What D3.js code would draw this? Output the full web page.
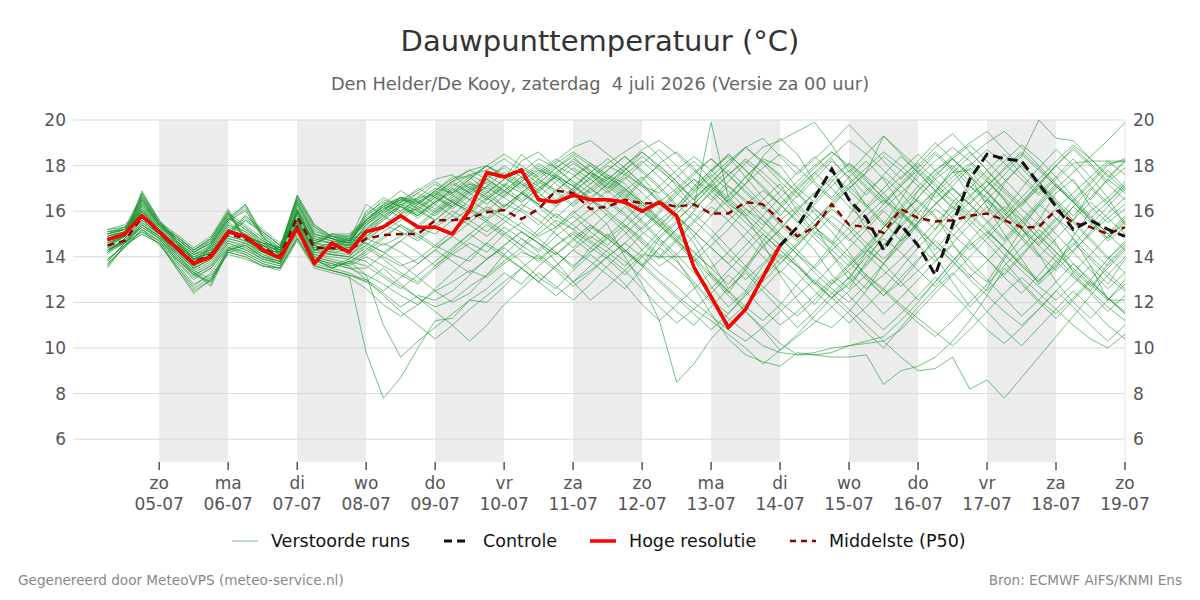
<!DOCTYPE html>
<html lang="nl">
<head>
<meta charset="UTF-8">
<title>Dauwpunttemperatuur</title>
<script src="https://cdn.jsdelivr.net/npm/d3@7"></script>
<style>
  body { margin: 0; background: #fff; }
  svg { font-family: "DejaVu Sans", sans-serif; }
</style>
</head>
<body>
<script>
// runs every 6 hours from 4 July 06 UTC
var startTime = "2026-07-04T06:00";
var stepHours = 6;

var tickDates = ["2026-07-05","2026-07-06","2026-07-07","2026-07-08","2026-07-09","2026-07-10","2026-07-11",
                 "2026-07-12","2026-07-13","2026-07-14","2026-07-15","2026-07-16","2026-07-17","2026-07-18","2026-07-19"];
var dayNames = ["zo","ma","di","wo","do","vr","za","zo","ma","di","wo","do","vr","za","zo"];
var dayLabels = ["05-07","06-07","07-07","08-07","09-07","10-07","11-07","12-07","13-07","14-07","15-07","16-07","17-07","18-07","19-07"];
var shadedDays = ["2026-07-05","2026-07-07","2026-07-09","2026-07-11","2026-07-13","2026-07-15","2026-07-17"];
var yTicks = [6, 8, 10, 12, 14, 16, 18, 20];

var hires = [14.75,15.0,15.8,15.1,14.4,13.7,14.0,15.1,14.9,14.3,13.95,15.25,13.7,14.6,14.2,15.1,15.3,15.8,15.3,15.3,
             15.0,16.05,17.7,17.5,17.8,16.5,16.4,16.7,16.5,16.5,16.4,16.0,16.4,15.8,13.55,12.25,10.9,11.7,13.1,14.5];

var control = [14.75,15.0,15.8,15.1,14.4,13.7,14.0,15.1,14.9,14.3,13.95,15.25,13.7,14.6,14.2,15.1,15.3,15.8,15.3,15.3,
               15.0,16.05,17.7,17.5,17.8,16.5,16.4,16.7,16.5,16.5,16.4,16.0,16.4,15.8,13.55,12.25,10.9,11.7,13.1,14.5,
               15.3,16.6,17.85,16.5,15.7,14.3,15.4,14.5,13.2,15.4,17.4,18.5,18.3,18.2,17.2,16.2,15.2,15.6,15.2,14.9];

var median = [14.5,14.7,15.75,15.1,14.4,13.75,14.1,15.0,14.8,14.4,14.0,15.75,14.4,14.4,14.25,14.8,14.95,15.0,15.0,15.6,
              15.6,15.7,15.95,16.05,15.65,16.1,16.9,16.8,16.1,16.2,16.5,16.35,16.35,16.2,16.3,15.9,15.9,16.4,16.3,15.6,
              14.9,15.3,16.3,15.4,15.3,15.05,16.1,15.7,15.55,15.6,15.8,15.9,15.6,15.3,15.3,16.05,15.5,15.3,15.0,15.3];

var members = [
[14.6,15.0,16.2,15.3,14.6,14.0,14.3,15.4,15.0,14.5,14.1,16.1,14.8,14.6,14.5,15.3,15.8,16.2,15.9,16.4,16.8,17.2,17.0,16.6,17.3,17.8,17.5,16.9,17.4,18.0,17.6,17.1,16.8,17.5,18.2,17.4,16.3,15.8,16.5,17.2,16.0,15.1,14.6,15.8,16.9,17.5,16.8,15.9,15.2,16.4,17.1,16.6,15.7,14.9,15.6,16.8,17.4,16.2,15.5,16.1],
[14.2,14.8,15.6,15.0,14.2,13.5,13.9,14.8,14.6,14.2,13.9,15.5,14.2,14.1,14.0,14.8,14.5,14.9,15.3,15.0,15.6,16.1,15.7,16.3,16.0,15.4,16.2,16.8,16.5,16.1,16.9,17.5,16.6,15.8,14.9,13.8,12.6,13.4,14.5,15.2,16.1,16.8,17.4,16.5,15.2,14.3,15.6,16.9,17.8,18.3,17.6,16.2,15.0,13.9,12.8,13.5,14.9,16.0,16.6,15.4],
[15.0,15.2,16.6,15.5,14.8,14.2,14.6,15.8,15.3,14.7,14.3,16.4,15.0,14.8,14.6,15.6,16.3,15.9,16.1,16.6,16.2,16.9,17.5,17.9,17.2,16.8,17.6,18.3,17.8,17.1,16.5,17.3,18.1,18.6,17.9,17.0,16.4,17.2,18.4,19.2,18.5,17.3,16.6,17.5,18.2,17.4,16.3,15.5,16.8,17.9,18.6,17.8,16.9,16.2,17.1,18.0,17.3,16.5,17.4,18.2],
[13.8,14.6,15.3,14.8,13.9,13.2,13.6,14.6,14.3,13.9,13.7,15.2,14.0,13.8,13.6,14.0,13.6,13.2,12.8,13.5,14.1,14.6,14.2,15.0,15.5,14.9,15.3,16.0,15.4,14.8,14.2,15.0,15.6,14.8,13.9,12.7,11.8,12.5,13.6,14.4,15.1,14.3,13.2,12.6,13.8,15.0,15.9,16.5,15.8,14.6,13.5,12.9,14.0,15.2,16.3,15.7,14.8,13.6,12.8,13.9],
[14.9,15.1,16.0,15.2,14.3,13.6,14.5,15.6,16.2,14.9,14.2,15.9,14.5,14.3,14.4,15.2,15.9,16.4,16.0,15.6,16.3,17.0,16.6,16.0,16.8,17.4,16.9,16.3,17.0,17.6,17.2,16.4,15.6,16.2,17.1,17.8,18.4,17.5,16.6,15.8,16.7,17.6,18.3,17.4,16.2,15.4,16.5,17.7,18.5,17.8,16.7,15.9,17.2,18.1,17.3,16.4,15.6,16.9,17.8,17.0],
[14.4,14.9,16.9,15.6,14.7,13.9,14.2,15.2,14.9,14.6,14.4,16.7,15.4,14.9,14.7,15.5,16.1,16.5,16.4,16.8,16.4,17.0,17.6,17.1,16.5,17.2,17.9,18.4,17.7,17.0,17.8,18.6,17.9,17.1,16.2,19.9,16.6,17.5,18.3,18.0,17.0,16.4,17.3,18.1,17.4,16.5,15.7,16.6,17.5,18.3,17.6,16.8,16.0,17.0,17.9,18.7,18.0,17.1,16.4,17.2],
[13.5,14.5,15.0,14.6,13.5,12.4,13.0,14.2,14.0,13.6,13.5,14.8,13.6,13.4,13.2,9.8,7.8,8.7,10.0,11.2,11.3,12.1,12.6,13.3,12.8,13.6,14.2,13.5,14.4,15.0,14.3,13.6,14.8,15.5,14.6,13.2,12.4,13.5,14.7,15.6,16.2,15.4,14.1,13.0,14.2,15.3,16.0,15.2,14.0,12.9,11.8,12.6,13.9,14.8,15.5,14.6,13.3,12.5,13.7,14.5],
[15.2,15.3,15.9,15.0,14.5,13.9,14.0,15.0,15.7,15.1,14.5,15.6,14.3,14.5,14.8,14.6,14.2,13.7,13.1,12.5,12.0,12.4,13.2,14.1,14.8,14.3,15.2,15.8,15.1,14.5,15.3,16.0,15.4,14.6,13.8,14.5,15.2,16.1,15.6,14.8,14.1,13.5,14.3,15.0,15.8,16.5,15.9,15.1,14.3,15.2,16.0,16.8,16.1,15.3,14.6,15.4,16.2,15.5,14.7,15.3],
[14.3,14.6,15.4,14.9,14.1,13.3,12.8,14.3,14.5,14.0,13.8,15.4,13.9,13.5,13.8,13.2,11.0,9.6,10.3,10.9,11.5,12.1,12.0,12.7,13.5,12.9,13.6,14.3,13.8,13.2,12.6,13.5,14.4,13.8,12.9,12.1,11.5,12.4,13.3,14.1,13.6,12.8,12.2,13.1,14.0,14.8,14.2,13.4,12.7,13.6,14.5,15.1,14.4,13.6,12.9,13.8,14.6,13.9,13.1,12.5],
[14.7,14.9,16.4,15.4,14.9,14.3,14.8,16.0,14.7,14.3,14.2,16.0,14.6,15.0,14.9,15.8,16.5,16.2,15.7,16.3,17.0,16.5,16.0,16.7,17.3,16.8,16.2,17.0,17.7,17.2,16.6,17.4,18.0,17.3,16.5,17.2,18.1,18.8,18.1,17.3,16.6,17.4,18.2,17.5,16.7,17.6,18.4,17.7,16.9,16.1,17.0,17.8,18.5,17.6,16.8,17.5,18.3,17.5,16.6,17.3],
[14.5,14.9,16.0,15.2,14.5,13.9,14.2,15.2,14.9,14.4,14.0,15.9,14.6,14.5,14.3,14.9,15.4,15.1,14.7,15.3,15.8,15.4,14.9,15.5,16.1,15.6,15.0,14.4,15.2,15.9,15.3,14.6,13.9,14.7,15.5,16.2,15.6,14.8,14.0,13.3,14.1,15.0,15.8,15.2,14.4,13.7,14.5,15.4,16.1,15.5,14.7,13.9,13.2,14.0,14.9,15.7,15.1,14.3,13.6,14.4],
[14.3,14.7,15.5,14.9,14.3,13.6,14.0,14.9,14.7,14.3,13.9,15.6,14.3,14.2,14.1,14.5,14.0,13.6,13.9,14.5,14.1,13.8,14.6,15.3,14.8,14.2,14.9,15.5,16.1,15.4,14.0,12.8,11.2,8.5,9.3,10.4,11.2,11.9,12.6,13.4,12.7,11.9,12.8,13.6,14.3,13.7,12.9,12.1,12.9,13.8,14.6,13.9,13.1,12.4,13.2,14.1,14.8,14.0,13.3,12.6],
[14.9,15.1,16.5,15.4,14.7,14.1,14.5,15.7,15.2,14.6,14.2,16.3,14.9,14.7,14.5,16.0,16.6,16.2,15.8,16.5,17.1,17.6,17.2,16.7,17.3,17.9,17.4,16.8,17.5,18.1,18.6,19.1,18.4,17.6,16.9,17.7,18.5,17.8,17.0,16.3,17.1,17.9,18.6,17.9,17.1,16.4,17.2,18.0,18.8,19.4,18.6,17.8,17.0,16.3,17.2,18.0,18.8,18.1,17.3,17.9],
[13.9,14.5,15.2,14.7,13.8,13.1,13.5,14.5,14.2,13.8,13.6,15.0,13.9,13.7,13.5,13.2,12.8,12.3,11.9,12.6,13.3,14.0,14.6,14.1,13.5,12.9,13.6,14.3,14.9,14.4,13.8,13.1,12.3,11.6,11.0,11.8,12.6,13.3,12.5,11.7,10.9,11.6,12.4,13.1,12.3,11.5,12.2,13.0,13.8,14.5,13.8,13.0,12.2,11.4,12.1,12.9,13.7,13.0,12.2,11.5],
[14.8,15.0,15.9,15.1,14.2,13.5,14.4,15.5,16.1,14.8,14.1,15.8,14.4,14.2,14.3,15.0,15.6,16.2,16.8,16.3,15.8,16.5,17.1,16.6,16.1,16.9,17.6,17.1,16.5,17.2,17.9,17.2,16.4,15.6,16.3,17.1,17.8,17.1,16.3,15.5,14.8,15.6,16.4,17.1,16.3,15.5,14.7,15.5,16.3,17.0,16.3,15.6,14.8,15.6,16.4,17.2,16.5,15.7,15.0,15.8],
[14.5,15.0,16.8,15.5,14.6,13.8,14.1,15.1,14.8,14.5,14.3,16.6,15.3,14.8,14.6,15.8,16.3,16.6,16.5,17.0,16.8,17.4,18.0,17.6,17.1,17.7,18.3,17.8,17.2,17.8,18.4,17.7,17.0,16.2,17.0,17.8,18.5,17.8,17.1,16.3,15.5,16.3,17.1,17.8,17.0,16.3,17.1,17.9,18.6,17.9,17.1,16.4,15.6,16.4,17.2,18.0,18.7,18.0,17.2,16.5],
[13.6,14.5,15.1,14.6,13.6,12.6,13.1,14.3,14.1,13.7,13.5,14.9,13.7,13.5,13.3,12.9,12.4,11.8,12.3,12.1,12.5,13.2,13.9,14.4,13.8,13.1,12.6,13.4,14.1,13.5,12.8,11.9,11.2,11.9,12.6,13.3,12.5,11.6,10.8,9.9,10.6,11.4,12.2,11.5,10.7,10.0,10.9,11.8,12.6,13.3,12.5,11.6,10.8,10.1,10.9,11.7,12.5,11.8,11.0,10.4],
[15.1,15.2,15.8,14.9,14.4,13.8,14.0,14.9,15.6,15.0,14.4,15.5,14.3,14.4,14.7,15.2,15.7,16.3,16.0,16.6,17.2,16.8,16.3,16.9,17.5,17.1,16.5,17.0,17.7,17.3,16.7,16.0,15.3,16.1,16.9,17.6,16.9,16.1,15.4,16.2,17.0,17.7,17.0,16.2,15.5,16.3,17.1,17.8,17.1,16.4,15.7,16.5,17.3,18.0,17.3,16.5,15.8,16.6,17.4,16.8],
[14.2,14.6,15.3,14.8,14.0,13.2,12.9,14.2,14.4,13.9,13.7,15.3,13.8,13.6,13.7,14.1,14.6,14.2,13.7,14.3,14.9,14.4,13.9,14.5,15.1,14.6,14.1,14.8,15.4,14.9,14.3,13.6,14.4,15.2,15.9,15.2,14.4,13.6,12.9,13.7,14.5,15.3,14.6,13.8,13.0,12.3,13.1,13.9,14.7,14.0,13.2,12.5,13.3,14.1,14.9,14.2,13.4,12.7,13.5,14.3],
[14.8,15.0,16.3,15.3,14.8,14.2,14.7,15.9,14.8,14.4,14.3,15.9,14.7,15.0,14.8,15.4,15.9,16.5,16.1,15.6,16.2,16.9,17.4,16.9,16.4,17.0,17.7,18.2,17.6,16.9,16.3,15.6,14.8,14.1,13.3,12.6,13.4,14.2,15.0,14.3,13.6,12.8,13.6,14.4,15.2,16.0,15.3,14.5,13.8,14.6,15.4,16.2,15.5,14.8,14.0,14.8,15.6,16.4,15.7,15.0],
[14.7,15.1,16.3,15.4,14.7,14.1,14.4,15.5,15.1,14.6,14.2,16.2,14.9,14.7,14.6,15.6,16.1,16.5,16.3,16.8,17.3,17.6,17.8,18.3,17.8,17.2,17.9,18.5,18.0,17.4,18.0,18.6,18.0,17.3,16.5,17.3,18.0,18.8,19.2,18.4,17.6,18.3,19.0,19.8,19.0,18.2,17.4,18.2,19.0,18.3,17.5,16.8,17.6,18.4,20.0,19.2,19.1,18.3,17.5,18.2],
[14.1,14.7,15.6,15.0,14.1,13.4,13.8,14.7,14.5,14.1,13.8,15.4,14.1,14.0,13.9,14.4,13.9,13.3,12.9,13.6,14.3,15.0,15.6,15.1,14.5,15.2,15.9,15.4,14.8,15.5,16.2,15.5,14.7,13.9,12.7,11.5,10.4,9.7,9.4,9.2,9.8,9.7,9.6,9.6,9.7,8.4,9.0,9.2,9.6,10.3,11.2,12.3,13.5,12.8,12.0,11.3,12.1,12.9,12.2,11.6],
[15.0,15.3,16.7,15.6,14.9,14.3,14.7,15.9,15.4,14.8,14.4,16.5,15.1,14.9,14.7,16.3,15.8,16.4,17.0,16.6,16.1,16.7,17.3,16.8,17.4,18.0,17.5,16.9,16.3,16.9,17.5,16.8,16.1,16.9,17.6,18.3,17.6,16.8,16.1,16.9,17.7,18.4,17.7,16.9,16.2,17.0,17.8,18.5,17.8,17.0,16.3,17.1,17.9,18.6,17.9,17.1,16.4,17.2,18.0,18.3],
[13.7,14.4,15.2,14.7,13.8,13.0,13.5,14.4,14.2,13.8,13.6,15.1,13.9,13.7,13.5,13.5,14.1,14.7,14.2,13.6,14.2,14.8,15.4,14.9,14.3,13.8,14.5,15.1,14.6,14.0,13.4,12.6,11.8,11.1,11.7,12.4,13.2,12.5,11.7,11.0,11.6,12.3,13.0,12.3,11.5,10.8,11.5,12.3,13.1,12.4,11.6,10.8,10.2,10.9,11.7,12.5,11.8,11.0,10.3,11.0],
[14.9,15.2,16.1,15.3,14.4,13.7,14.6,15.7,16.3,15.0,14.3,16.0,14.6,14.4,14.5,14.8,15.3,15.9,16.4,16.0,16.6,17.2,16.7,16.2,16.8,16.3,15.7,16.4,17.0,16.5,15.9,15.2,15.9,16.7,17.4,16.7,15.9,15.2,14.4,13.7,14.5,15.3,16.1,15.4,14.6,13.9,14.7,15.5,16.3,17.0,16.3,15.5,14.7,15.5,16.3,17.1,16.4,15.6,14.8,15.6],
[14.3,14.8,16.6,15.4,14.6,13.9,14.2,15.2,14.9,14.5,14.3,16.5,15.2,14.8,14.5,15.1,15.6,16.2,15.8,16.4,17.0,16.5,17.1,17.7,17.2,16.6,17.3,17.9,17.4,16.8,17.4,18.1,18.7,18.0,17.2,16.5,17.3,18.1,18.8,19.1,19.5,19.9,18.9,17.7,18.5,19.3,18.5,17.7,16.9,17.7,17.8,16.9,16.0,15.2,14.5,15.3,16.2,17.0,16.3,15.5],
[13.7,14.4,15.2,14.5,13.7,12.8,13.2,14.1,13.9,13.6,13.4,14.7,13.5,13.3,13.1,12.6,11.9,11.4,11.9,12.5,12.9,13.4,13.1,13.7,14.2,13.9,14.5,15.0,14.4,13.9,13.2,14.0,14.9,15.6,16.3,17.1,16.5,15.8,14.6,13.2,12.1,11.2,10.9,11.6,12.5,13.7,14.8,15.9,16.8,17.5,18.1,17.4,16.5,15.3,14.1,12.9,12.0,11.3,12.1,13.0],
[15.1,15.3,16.0,15.1,14.6,14.0,14.1,15.1,15.8,15.2,14.6,15.7,14.4,14.6,14.9,15.6,16.2,15.7,16.3,16.9,16.4,15.9,16.5,17.1,18.2,18.6,17.9,17.2,16.5,15.8,15.1,14.3,13.6,14.1,14.9,15.8,16.7,17.5,18.2,17.6,16.8,15.9,15.1,14.2,13.1,12.3,12.9,13.8,14.9,15.8,16.6,17.4,18.2,18.9,18.3,17.5,16.6,15.8,15.0,14.3],
[14.4,14.6,15.5,15.0,14.1,13.4,13.0,14.4,14.6,14.1,13.9,15.5,14.0,13.6,13.9,14.5,15.1,15.6,16.2,15.8,16.4,16.0,15.5,15.0,14.5,14.0,13.4,12.7,13.3,14.0,14.6,15.3,16.0,16.8,17.4,16.9,16.2,15.5,14.8,14.0,13.3,12.5,11.8,11.1,11.8,12.6,13.5,14.4,15.2,16.0,16.7,17.3,16.6,15.8,15.0,14.2,13.5,12.8,12.1,12.8],
[14.6,14.9,16.5,15.5,15.0,14.4,14.9,16.1,14.8,14.2,14.1,16.1,14.5,15.0,15.0,15.6,16.2,16.6,16.3,16.9,17.5,17.5,16.9,16.2,16.8,17.4,18.0,17.6,17.0,16.4,15.8,15.1,14.5,15.2,16.0,16.9,17.6,18.2,17.5,16.7,15.8,15.0,14.3,13.6,14.4,15.3,16.2,17.1,17.8,18.4,19.0,19.5,18.7,17.9,17.1,16.3,15.5,14.7,13.9,14.6],
[14.6,14.9,16.1,15.2,14.5,14.0,14.3,15.3,15.0,14.5,14.1,16.0,14.7,14.6,14.4,14.6,14.2,14.7,15.3,15.9,16.4,16.0,16.6,17.2,16.8,16.2,15.5,14.8,14.2,14.9,15.6,16.4,17.1,17.8,18.4,17.8,17.1,16.4,15.6,14.9,14.1,13.3,12.6,12.0,12.8,13.7,14.6,15.5,16.3,17.1,17.9,17.3,16.5,15.6,14.8,15.6,16.5,17.3,18.1,18.2],
[14.2,14.8,15.7,15.1,14.3,13.5,13.9,14.9,14.7,14.2,13.9,15.6,14.3,14.1,14.0,13.8,13.2,12.7,12.2,11.8,12.1,12.7,13.2,13.8,14.4,15.0,15.6,15.2,14.7,14.2,13.6,14.3,15.1,15.9,16.6,17.2,16.6,15.9,15.2,14.5,13.7,12.9,12.2,12.8,13.6,14.5,15.4,16.2,16.9,16.2,15.4,14.6,13.8,12.9,12.1,11.5,12.2,13.0,13.9,14.7],
[15.1,15.2,16.6,15.5,14.8,14.2,14.6,15.8,15.3,14.7,14.3,16.4,15.0,14.8,14.6,15.7,16.2,16.6,16.4,16.9,17.4,17.8,18.0,18.5,18.0,17.5,18.1,18.6,18.1,17.5,16.9,16.2,15.4,14.7,14.0,13.2,12.5,11.8,11.2,11.9,12.8,13.6,14.5,15.3,16.1,16.8,17.5,18.1,17.4,16.7,15.9,15.2,14.4,13.6,12.9,13.7,14.5,15.4,16.2,17.0],
[13.9,14.5,15.4,14.8,13.9,13.3,13.7,14.7,14.4,14.0,13.7,15.3,14.1,13.9,13.7,14.3,14.9,15.4,15.0,14.5,15.1,15.7,16.2,15.8,15.3,14.8,14.2,13.6,14.2,14.8,15.4,14.8,14.1,13.5,12.8,12.0,11.3,10.7,10.1,9.8,9.7,9.8,10.0,10.1,10.3,10.5,11.2,12.0,12.9,13.8,14.7,15.5,16.2,15.6,14.8,14.0,13.2,12.4,11.6,12.3],
[14.8,15.1,16.0,15.2,14.3,13.6,14.5,15.6,16.0,14.9,14.2,15.9,14.5,14.3,14.4,15.4,16.0,16.6,16.1,16.7,17.3,16.8,17.4,18.0,17.5,16.9,17.5,18.1,17.6,17.0,17.6,18.2,17.5,16.8,16.1,16.8,17.6,18.3,17.7,17.0,16.3,15.6,16.3,17.0,17.7,18.4,17.8,17.1,16.4,15.7,16.4,17.1,17.8,18.5,17.8,17.1,16.4,15.7,16.4,17.1],
[14.5,14.9,16.7,15.5,14.7,13.9,14.2,15.1,14.9,14.6,14.4,16.6,15.3,14.9,14.6,15.2,15.8,15.3,14.8,15.4,16.0,15.6,15.1,15.7,16.3,15.9,15.3,15.9,16.5,16.0,15.4,14.7,14.0,14.8,15.6,16.4,17.1,16.5,15.8,15.0,14.3,13.5,12.8,13.4,14.2,15.0,15.8,16.6,17.4,18.0,17.3,16.5,15.7,14.9,14.1,13.4,14.2,15.1,15.9,16.6],
[13.8,14.6,15.1,14.7,13.6,12.7,13.3,14.4,14.1,13.7,13.5,14.8,13.6,13.4,13.2,12.9,13.5,12.8,12.2,11.6,11.0,10.3,11.0,11.9,12.6,13.3,12.7,12.1,12.8,13.6,14.3,13.7,13.0,12.3,11.7,11.2,10.6,10.0,9.3,9.9,10.5,11.1,11.8,12.5,13.2,12.6,11.9,11.3,10.7,10.1,10.8,11.6,12.4,13.1,12.4,11.7,11.0,10.4,10.0,10.6],
[15.2,15.4,16.0,15.1,14.5,13.9,14.0,15.0,15.8,15.1,14.5,15.6,14.3,14.5,14.8,15.5,16.0,16.3,16.6,16.7,16.2,16.8,17.4,16.9,16.4,17.0,17.5,17.1,16.6,17.2,17.8,18.4,17.8,17.2,16.5,15.8,16.5,17.2,17.9,18.5,17.9,17.2,16.5,17.2,17.9,18.6,18.0,17.3,16.6,17.3,18.0,18.7,18.1,17.4,16.7,17.4,18.1,18.2,18.2,18.2],
[14.3,14.7,15.4,14.9,14.0,13.3,12.7,14.3,14.5,14.0,13.8,15.4,13.9,13.5,13.8,14.2,14.8,15.4,14.9,14.4,14.9,15.5,16.1,15.6,15.1,14.6,13.8,12.9,12.1,12.7,13.4,14.1,14.0,14.0,14.0,14.8,15.6,16.3,16.9,16.3,15.6,14.8,14.1,13.3,12.6,13.2,13.9,14.7,15.5,16.2,15.6,14.9,14.1,13.4,12.7,12.1,12.8,13.6,12.1,12.1],
[14.7,15.0,16.4,15.4,14.9,14.3,14.8,16.0,14.7,14.3,14.2,16.0,14.6,14.9,14.8,15.6,16.3,16.9,16.4,15.9,16.5,17.1,16.6,16.0,16.7,17.3,16.8,16.2,16.9,17.5,17.0,16.4,15.7,15.0,14.2,13.5,12.8,13.6,14.4,15.2,16.0,16.8,17.5,18.1,17.5,16.8,16.0,15.3,14.5,13.8,13.0,12.3,11.6,11.0,11.7,12.5,13.3,14.1,14.9,15.7],
[14.5,15.0,16.2,15.3,14.6,14.1,14.3,15.4,15.1,14.5,14.1,16.1,14.8,14.6,14.5,15.4,16.0,16.6,16.2,16.7,17.3,17.8,17.4,16.9,17.5,18.1,17.6,17.1,17.7,18.3,17.7,17.1,16.4,17.0,17.7,18.3,17.6,16.9,16.2,15.4,14.7,15.4,16.2,17.0,17.7,19.3,18.6,17.9,17.2,16.5,15.8,15.1,14.4,13.7,13.0,13.6,14.3,15.0,15.7,16.3],
[14.2,14.8,15.6,15.0,14.2,13.5,13.9,14.8,14.6,14.2,13.9,15.5,14.2,14.1,14.0,14.7,15.3,15.8,15.4,16.0,16.5,16.1,15.6,16.2,16.8,16.3,15.8,15.2,15.8,16.4,17.0,16.3,15.5,14.7,13.9,13.1,12.3,11.6,10.9,10.2,9.7,9.7,9.8,10.1,10.2,10.3,10.8,11.6,12.4,13.2,14.0,14.8,15.6,16.3,17.0,16.4,15.6,14.8,14.0,13.3],
[15.0,15.2,16.5,15.4,14.8,14.2,14.6,15.7,15.2,14.7,14.3,16.3,15.0,14.8,14.6,15.6,16.2,16.5,16.9,17.4,17.6,17.0,16.5,17.1,17.7,18.3,17.9,17.3,16.8,17.4,18.0,18.7,19.1,18.5,17.8,17.1,16.4,15.7,15.0,14.3,13.6,12.9,12.2,12.9,13.7,14.5,15.3,16.1,16.9,17.7,18.4,19.0,19.5,18.8,18.0,17.2,16.4,15.6,14.8,15.5],
[13.8,14.6,15.3,14.8,13.9,13.2,13.6,14.6,14.3,13.9,13.7,15.2,14.0,13.8,13.6,13.0,12.5,13.1,13.7,14.3,13.8,13.3,13.9,14.5,15.1,14.6,14.1,14.7,15.3,14.8,14.2,13.6,12.9,12.2,11.5,10.8,11.5,12.3,13.1,13.9,14.6,15.3,14.7,14.0,13.2,12.5,11.8,11.1,10.5,11.2,12.0,12.8,13.6,14.4,15.2,14.5,13.7,12.9,12.2,11.5],
[14.9,15.1,16.1,15.2,14.3,13.6,14.5,15.6,16.3,14.9,14.2,16.0,14.5,14.3,14.4,15.1,15.7,16.3,15.8,16.4,16.9,17.5,18.0,17.5,16.9,16.3,16.9,17.5,18.0,17.4,16.8,16.1,15.4,16.1,16.8,17.5,18.2,18.8,18.2,17.5,16.8,16.1,15.4,14.7,15.4,16.1,16.8,17.5,18.2,18.8,18.2,17.5,16.8,16.1,15.4,16.1,16.8,17.5,18.2,17.6],
[14.4,14.9,16.8,15.6,14.7,13.9,14.2,15.2,14.9,14.6,14.4,16.7,15.4,14.9,14.7,15.9,16.4,16.0,16.6,17.2,16.7,16.2,16.8,17.4,18.5,17.8,17.2,16.6,17.2,17.8,18.4,17.8,17.1,16.3,15.6,14.9,14.1,13.4,12.7,12.0,11.4,12.1,12.9,13.7,14.5,15.3,16.1,16.9,17.6,18.3,18.9,18.2,17.4,16.6,15.8,15.0,14.2,13.4,12.6,13.3],
[13.6,14.5,15.0,14.6,13.5,12.5,13.0,14.2,14.0,13.6,13.5,14.8,13.6,13.4,13.2,13.0,12.3,11.6,11.0,10.4,11.0,11.7,12.3,12.9,13.5,14.1,13.5,12.9,13.4,14.0,14.6,14.0,13.3,12.7,12.0,11.4,10.8,10.3,10.9,11.6,12.3,13.0,12.4,11.7,11.0,10.3,9.6,9.0,9.1,9.6,8.2,8.6,7.8,8.7,9.6,10.5,11.4,12.3,13.2,14.0],
[15.0,15.2,15.9,15.0,14.5,13.9,14.0,15.0,15.6,15.1,14.5,15.6,14.3,14.5,14.8,14.9,15.4,16.0,16.5,16.1,16.7,17.3,16.8,17.4,17.9,17.4,16.9,17.5,18.1,17.6,17.0,16.3,15.6,14.9,14.2,13.5,14.2,15.0,15.8,16.6,17.3,18.0,18.6,18.0,17.3,16.6,15.9,15.2,14.5,13.8,13.1,13.8,14.6,15.4,16.2,17.0,17.7,18.4,19.1,19.9],
[14.3,14.6,15.4,14.9,14.1,13.3,12.9,14.3,14.5,14.0,13.8,15.4,13.9,13.5,13.8,13.6,13.1,12.6,13.2,13.8,14.4,15.0,14.5,14.0,13.5,12.9,12.3,12.9,13.6,14.3,15.0,15.7,16.4,15.8,15.1,14.4,13.7,13.0,13.7,14.5,15.3,16.1,15.5,14.8,14.1,13.4,12.7,13.4,14.1,14.9,15.7,16.5,15.9,15.2,14.5,13.8,13.1,12.5,11.8,11.2],
[14.8,14.9,16.3,15.4,14.9,14.3,14.8,15.9,14.7,14.3,14.2,15.9,14.6,14.9,14.9,15.5,16.1,16.4,16.8,17.3,16.8,17.4,18.0,17.5,17.0,17.6,18.2,18.8,19.1,18.5,17.9,17.2,16.5,15.8,15.1,14.4,13.7,14.5,15.3,16.1,16.9,17.7,18.4,19.1,18.5,17.8,17.1,16.4,15.7,15.0,14.3,15.0,15.8,16.6,17.4,18.2,18.9,18.3,17.6,16.9]
];

var width = 1200,
    height = 600;
var plotLeft = 73, plotRight = 1125, plotTop = 120, plotBottom = 462;

var svg = d3.select("body").append("svg")
    .attr("width", width)
    .attr("height", height);

var parseDay = d3.utcParse("%Y-%m-%d");
var t0 = d3.utcParse("%Y-%m-%dT%H:%M")(startTime);
var times = members[0].map(function (d, i) { return d3.utcHour.offset(t0, i * stepHours); });

var x = d3.scaleUtc()
    .domain([d3.utcHour.offset(t0, -12), parseDay(tickDates[tickDates.length - 1])])
    .range([plotLeft, plotRight]);
var y = d3.scaleLinear().domain([5, 20]).range([plotBottom, plotTop]);

// shaded days
svg.append("g").selectAll("rect")
    .data(shadedDays)
    .enter().append("rect")
    .attr("x", function (d) { return x(parseDay(d)); })
    .attr("width", function (d) { return x(d3.utcDay.offset(parseDay(d), 1)) - x(parseDay(d)); })
    .attr("y", plotTop)
    .attr("height", plotBottom - plotTop)
    .attr("fill", "#ececec");

// grid
svg.append("g").selectAll("line")
    .data(yTicks)
    .enter().append("line")
    .attr("x1", plotLeft).attr("x2", plotRight)
    .attr("y1", function (d) { return y(d); })
    .attr("y2", function (d) { return y(d); })
    .attr("stroke", "#d9d9d9")
    .attr("stroke-width", 1);

svg.append("line")
    .attr("x1", plotRight).attr("x2", plotRight)
    .attr("y1", plotTop).attr("y2", plotBottom)
    .attr("stroke", "#e3e3e3");

// y labels left and right
var yl = svg.append("g").attr("font-size", 17).attr("fill", "#555");
yl.selectAll(".yl").data(yTicks).enter().append("text")
    .attr("x", plotLeft - 7)
    .attr("y", function (d) { return y(d) + 6; })
    .attr("text-anchor", "end")
    .text(function (d) { return d; });
yl.selectAll(".yr").data(yTicks).enter().append("text")
    .attr("x", plotRight + 8)
    .attr("y", function (d) { return y(d) + 6; })
    .attr("text-anchor", "start")
    .text(function (d) { return d; });

// x ticks
var xt = svg.append("g").selectAll("g")
    .data(tickDates)
    .enter().append("g")
    .attr("transform", function (d) { return "translate(" + x(parseDay(d)) + ",0)"; });
xt.append("line")
    .attr("y1", plotBottom).attr("y2", plotBottom + 8)
    .attr("stroke", "#555").attr("stroke-width", 1.5);
xt.append("text")
    .attr("y", 489)
    .attr("text-anchor", "middle")
    .attr("font-size", 17)
    .attr("fill", "#555")
    .text(function (d, i) { return dayNames[i]; });
xt.append("text")
    .attr("y", 510)
    .attr("text-anchor", "middle")
    .attr("font-size", 17)
    .attr("fill", "#555")
    .text(function (d, i) { return dayLabels[i]; });

var line = d3.line()
    .x(function (d, i) { return x(times[i]); })
    .y(function (d) { return y(d); });

// ensemble members
svg.append("g").selectAll("path")
    .data(members)
    .enter().append("path")
    .attr("d", line)
    .attr("fill", "none")
    .attr("stroke", "#1e9632")
    .attr("stroke-opacity", 0.6)
    .attr("stroke-width", 1);

svg.append("path")
    .attr("d", line(median))
    .attr("fill", "none")
    .attr("stroke", "#8b0000")
    .attr("stroke-width", 2.5)
    .attr("stroke-dasharray", "7,5");

svg.append("path")
    .attr("d", line(control))
    .attr("fill", "none")
    .attr("stroke", "#111")
    .attr("stroke-width", 3)
    .attr("stroke-dasharray", "10,5");

svg.append("path")
    .attr("d", line(hires))
    .attr("fill", "none")
    .attr("stroke", "#ff0000")
    .attr("stroke-width", 3.5)
    .attr("stroke-linejoin", "round");

// titles
svg.append("text")
    .attr("x", width / 2).attr("y", 51)
    .attr("text-anchor", "middle")
    .attr("font-size", 29)
    .attr("fill", "#333")
    .text("Dauwpunttemperatuur (°C)");
svg.append("text")
    .attr("x", width / 2).attr("y", 90)
    .attr("text-anchor", "middle")
    .attr("font-size", 17.8)
    .attr("fill", "#666")
    .style("white-space", "pre")
    .text("Den Helder/De Kooy, zaterdag  4 juli 2026 (Versie za 00 uur)");

// legend
var legend = [
    {label: "Verstoorde runs", x: 232, color: "#1e9632", width: 1, dash: null, opacity: 0.6},
    {label: "Controle", x: 444, color: "#111", width: 3, dash: "8,5", opacity: 1},
    {label: "Hoge resolutie", x: 590, color: "#ff0000", width: 3.5, dash: null, opacity: 1},
    {label: "Middelste (P50)", x: 790, color: "#8b0000", width: 2.5, dash: "6,5", opacity: 1}
];
var lg = svg.append("g").selectAll("g")
    .data(legend)
    .enter().append("g")
    .attr("transform", function (d) { return "translate(" + d.x + ",541)"; });
lg.append("line")
    .attr("x1", 0).attr("x2", 26)
    .attr("stroke", function (d) { return d.color; })
    .attr("stroke-width", function (d) { return d.width; })
    .attr("stroke-opacity", function (d) { return d.opacity; })
    .attr("stroke-dasharray", function (d) { return d.dash; });
lg.append("text")
    .attr("x", 39).attr("y", 6)
    .attr("font-size", 17.5)
    .attr("fill", "#111")
    .text(function (d) { return d.label; });

// footer
svg.append("text")
    .attr("x", 18).attr("y", 585)
    .attr("font-size", 13.6)
    .attr("fill", "#888")
    .text("Gegenereerd door MeteoVPS (meteo-service.nl)");
svg.append("text")
    .attr("x", 1182).attr("y", 585)
    .attr("text-anchor", "end")
    .attr("font-size", 13.6)
    .attr("fill", "#888")
    .text("Bron: ECMWF AIFS/KNMI Ens");
</script>
</body>
</html>
